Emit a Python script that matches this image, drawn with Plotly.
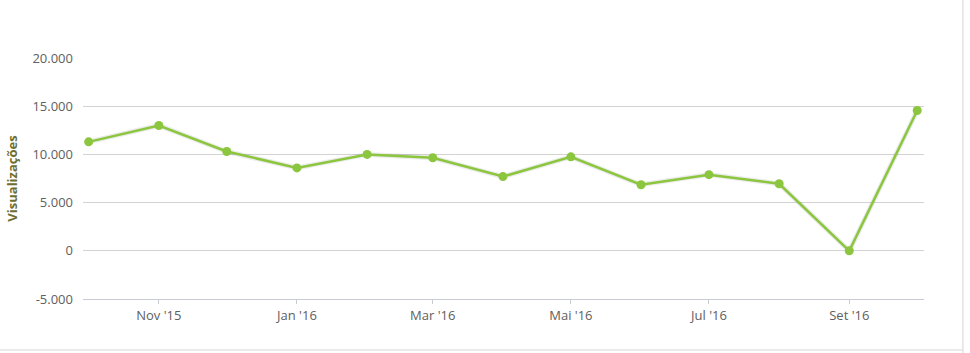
import plotly.graph_objects as go

months = ["2015-10-01", "2015-11-01", "2015-12-01", "2016-01-01", "2016-02-01",
          "2016-03-01", "2016-04-01", "2016-05-01", "2016-06-01", "2016-07-01",
          "2016-08-01", "2016-09-01", "2016-10-01"]
views = [11300, 13000, 10300, 8600, 10000, 9650, 7700, 9750, 6850, 7900, 6950, 0, 14550]

x_tick_vals = ["2015-11-01", "2016-01-01", "2016-03-01", "2016-05-01", "2016-07-01", "2016-09-01"]
x_tick_text = ["Nov '15", "Jan '16", "Mar '16", "Mai '16", "Jul '16", "Set '16"]
y_tick_vals = [-5000, 0, 5000, 10000, 15000, 20000]
y_tick_text = ["-5.000", "0", "5.000", "10.000", "15.000", "20.000"]

fig = go.Figure()
# soft shadow
fig.add_trace(go.Scatter(x=months, y=views, mode="lines",
                         line=dict(color="rgba(0,0,0,0.08)", width=5),
                         hoverinfo="skip", showlegend=False))
fig.add_trace(go.Scatter(x=months, y=views, mode="lines+markers",
                         line=dict(color="#8cc63f", width=2.5),
                         marker=dict(color="#8cc63f", size=9),
                         name="Visualizações", showlegend=False))

fig.update_layout(
    width=970, height=353,
    margin=dict(l=79, r=46, t=58, b=54),
    paper_bgcolor="white", plot_bgcolor="white",
    font=dict(family="Open Sans, DejaVu Sans, sans-serif", color="#606060", size=13),
    xaxis=dict(
        type="date",
        range=["2015-09-28 12:00", "2016-10-04"],
        tickvals=x_tick_vals, ticktext=x_tick_text,
        showgrid=False, zeroline=False,
        showline=True, linecolor="#c8ccd2", linewidth=1,
        ticks="outside", ticklen=4, tickcolor="#c8ccd2",
        tickfont=dict(size=13, color="#606060"),
    ),
    yaxis=dict(
        range=[-5000, 20000],
        tickvals=y_tick_vals, ticktext=y_tick_text,
        showgrid=True, gridcolor="#d3d3d3", gridwidth=1,
        zeroline=False, showline=False,
        ticks="", ticklabelstandoff=9,
        tickfont=dict(size=13, color="#606060"),
        title=dict(text="<b>Visualizações</b>", font=dict(size=13, color="#6e6e30"), standoff=11),
    ),
    shapes=[
        dict(type="line", xref="paper", yref="paper", x0=1.0462, x1=1.0462, y0=-0.3, y1=1.5,
             line=dict(color="#e3e3e3", width=1.5)),
        dict(type="line", xref="paper", yref="paper", x0=-0.2, x1=1.0462, y0=-0.2116, y1=-0.2116,
             line=dict(color="#e3e3e3", width=1.5)),
    ],
)

fig.write_html("out.html")
